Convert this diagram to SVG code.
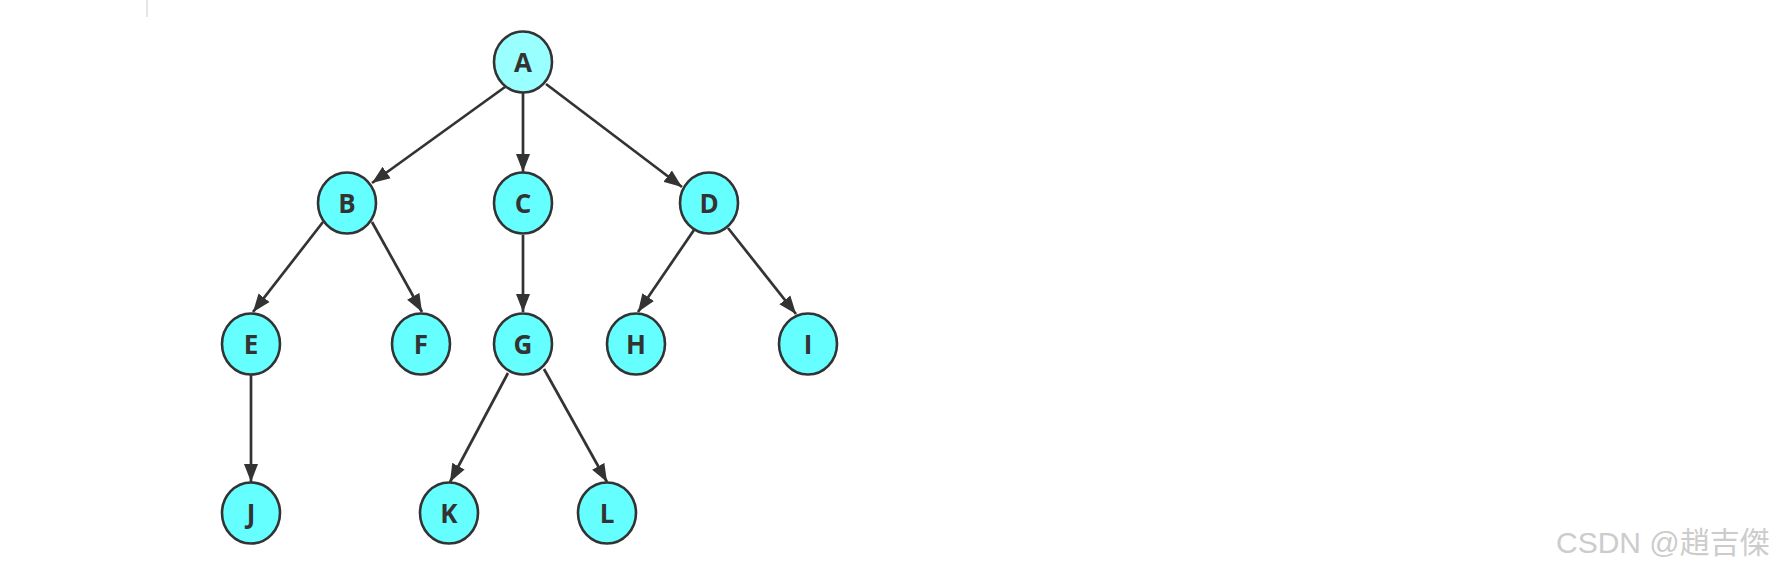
<svg xmlns="http://www.w3.org/2000/svg" width="1790" height="573" viewBox="0 0 1790 573">
<style>
.node ellipse{fill:#66FFFF;stroke:#333333;stroke-width:2.6}
#A ellipse{fill:#99FFFF}
.node text{font-family:"Open Sans","Liberation Sans",sans-serif;font-weight:bold;font-size:26px;fill:#333333;text-anchor:middle;dominant-baseline:central}
.edge{stroke:#333333;stroke-width:2.7;fill:none;marker-end:url(#arr)}
.wm{font-family:"Liberation Sans","Noto Sans CJK SC",sans-serif;font-size:30px;fill:#cccccc}
</style>
<defs>
<marker id="arr" markerUnits="userSpaceOnUse" markerWidth="19" markerHeight="15" refX="18" refY="7" orient="auto" viewBox="0 0 19 14">
<path d="M0,0 L18,7 L0,14 z" fill="#333333"/>
</marker>
</defs>
<rect width="1790" height="573" fill="#ffffff"/>
<line x1="147" y1="0" x2="147" y2="17" stroke="#cccccc" stroke-width="1"/>
<g id="connectors">
<path class="edge" d="M505,87 L372,183"/>
<path class="edge" d="M523,93 L523,172"/>
<path class="edge" d="M546,84 L682,187"/>
<path class="edge" d="M323,222 L253,312"/>
<path class="edge" d="M372,222 L422,312"/>
<path class="edge" d="M523,235 L523,312"/>
<path class="edge" d="M694,230 L638,312"/>
<path class="edge" d="M728,228 L796,314"/>
<path class="edge" d="M251,375 L251,482"/>
<path class="edge" d="M508,373 L450,482"/>
<path class="edge" d="M544,369 L607,482"/>
</g>
<g id="A" class="node"><ellipse cx="523" cy="62" rx="29" ry="30.5"/><text x="523" y="62">A</text></g>
<g id="B" class="node"><ellipse cx="347" cy="203" rx="29" ry="30.5"/><text x="347" y="203">B</text></g>
<g id="C" class="node"><ellipse cx="523" cy="203" rx="29" ry="30.5"/><text x="523" y="203">C</text></g>
<g id="D" class="node"><ellipse cx="709" cy="203" rx="29" ry="30.5"/><text x="709" y="203">D</text></g>
<g id="E" class="node"><ellipse cx="251" cy="344" rx="29" ry="30.5"/><text x="251" y="344">E</text></g>
<g id="F" class="node"><ellipse cx="421" cy="344" rx="29" ry="30.5"/><text x="421" y="344">F</text></g>
<g id="G" class="node"><ellipse cx="523" cy="344" rx="29" ry="30.5"/><text x="523" y="344">G</text></g>
<g id="H" class="node"><ellipse cx="636" cy="344" rx="29" ry="30.5"/><text x="636" y="344">H</text></g>
<g id="I" class="node"><ellipse cx="808" cy="344" rx="29" ry="30.5"/><text x="808" y="344">I</text></g>
<g id="J" class="node"><ellipse cx="251" cy="513" rx="29" ry="30.5"/><text x="251" y="513">J</text></g>
<g id="K" class="node"><ellipse cx="449" cy="513" rx="29" ry="30.5"/><text x="449" y="513">K</text></g>
<g id="L" class="node"><ellipse cx="607" cy="513" rx="29" ry="30.5"/><text x="607" y="513">L</text></g>
<text class="wm" x="1556" y="553">CSDN @趙吉傑</text>
</svg>
